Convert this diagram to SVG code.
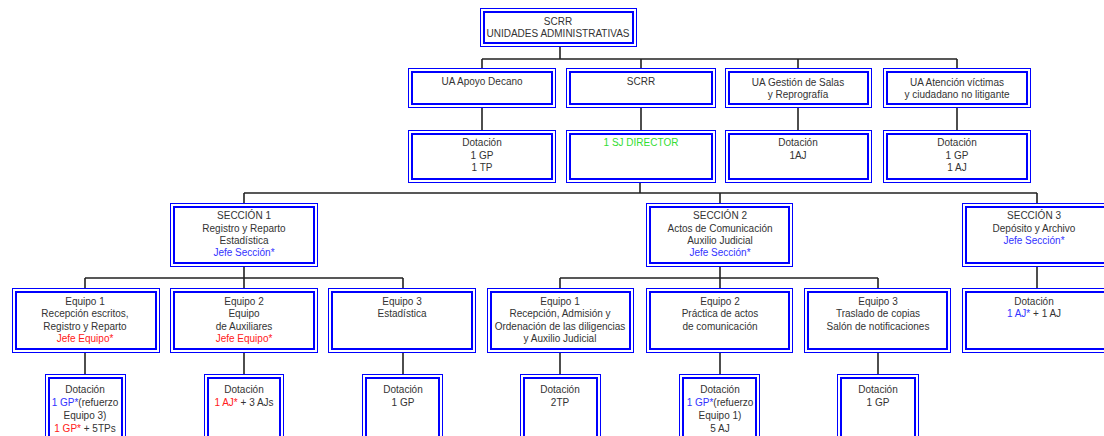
<svg xmlns="http://www.w3.org/2000/svg" width="1104" height="436" viewBox="0 0 1104 436">
  <style>
    .o { fill: #ffffff; stroke: #0000ff; stroke-width: 1; }
    .i { fill: none; stroke: #0000ff; stroke-width: 2; }
    text { font-family: "Liberation Sans", Arial, sans-serif; font-size: 10px; fill: #333333; text-anchor: middle; }
    .blue { fill: #3333ff; }
    .red { fill: #ff2020; }
    .green { fill: #33dd33; }
    .conn { stroke: #222222; stroke-width: 1.6; fill: none; }
  </style>
  <rect width="1104" height="436" fill="#ffffff"/>

  <!-- connectors -->
  <g id="connectors" class="conn">
    <path d="M560 47V59M482 59H957M482 59V68M641 59V68M798 59V68M957 59V68"/>
    <path d="M482 108V130M641 108V130M798 108V130M957 108V130"/>
    <path d="M640 183V193M244 193H1037M244 193V203M720 193V203M1037 193V203"/>
    <path d="M244 267V278M85 278H403M85 278V288M244 278V288M403 278V288"/>
    <path d="M720 267V278M560 278H878M560 278V288M720 278V288M878 278V288"/>
    <path d="M1037 267V288"/>
    <path d="M85 353V374M244 353V374M403 353V374M560 353V374M720 353V374M878 353V374"/>
  </g>

  <!-- root -->
  <g id="root">
    <rect class="o" x="480.5" y="8.5" width="156" height="38"/>
    <rect class="i" x="484" y="12" width="149" height="31"/>
    <text x="558" y="25">SCRR</text>
    <text x="558" y="37">UNIDADES ADMINISTRATIVAS</text>
  </g>

  <!-- administrative units -->
  <g id="ua-apoyo">
    <rect class="o" x="408.5" y="68.5" width="147" height="39"/>
    <rect class="i" x="412" y="72" width="140" height="32"/>
    <text x="482" y="85">UA Apoyo Decano</text>
  </g>
  <g id="ua-scrr">
    <rect class="o" x="566.5" y="68.5" width="149" height="39"/>
    <rect class="i" x="570" y="72" width="142" height="32"/>
    <text x="641" y="85">SCRR</text>
  </g>
  <g id="ua-gestion">
    <rect class="o" x="725.5" y="68.5" width="146" height="39"/>
    <rect class="i" x="729" y="72" width="139" height="32"/>
    <text x="798" y="86">UA Gestión de Salas</text>
    <text x="798" y="98">y Reprografía</text>
  </g>
  <g id="ua-atencion">
    <rect class="o" x="883.5" y="68.5" width="147" height="39"/>
    <rect class="i" x="887" y="72" width="140" height="32"/>
    <text x="957" y="86">UA Atención víctimas</text>
    <text x="957" y="98">y ciudadano no litigante</text>
  </g>

  <!-- staffing of administrative units -->
  <g id="dot-apoyo">
    <rect class="o" x="408.5" y="130.5" width="147" height="52"/>
    <rect class="i" x="412" y="134" width="140" height="45"/>
    <text x="482" y="146">Dotación</text>
    <text x="482" y="159">1 GP</text>
    <text x="482" y="171">1 TP</text>
  </g>
  <g id="dot-scrr">
    <rect class="o" x="566.5" y="130.5" width="149" height="52"/>
    <rect class="i" x="570" y="134" width="142" height="45"/>
    <text x="641" y="146" class="green">1 SJ DIRECTOR</text>
  </g>
  <g id="dot-gestion">
    <rect class="o" x="725.5" y="130.5" width="146" height="52"/>
    <rect class="i" x="729" y="134" width="139" height="45"/>
    <text x="798" y="146">Dotación</text>
    <text x="798" y="159">1AJ</text>
  </g>
  <g id="dot-atencion">
    <rect class="o" x="883.5" y="130.5" width="147" height="52"/>
    <rect class="i" x="887" y="134" width="140" height="45"/>
    <text x="957" y="146">Dotación</text>
    <text x="957" y="159">1 GP</text>
    <text x="957" y="171">1 AJ</text>
  </g>

  <!-- sections -->
  <g id="seccion-1">
    <rect class="o" x="170.5" y="203.5" width="147" height="63"/>
    <rect class="i" x="174" y="207" width="140" height="56"/>
    <text x="244" y="219">SECCIÓN 1</text>
    <text x="244" y="232">Registro y Reparto</text>
    <text x="244" y="244">Estadística</text>
    <text x="244" y="256" class="blue">Jefe Sección*</text>
  </g>
  <g id="seccion-2">
    <rect class="o" x="646.5" y="203.5" width="146" height="63"/>
    <rect class="i" x="650" y="207" width="139" height="56"/>
    <text x="720" y="219">SECCIÓN 2</text>
    <text x="720" y="232">Actos de Comunicación</text>
    <text x="720" y="244">Auxilio Judicial</text>
    <text x="720" y="256" class="blue">Jefe Sección*</text>
  </g>
  <g id="seccion-3">
    <rect class="o" x="962.5" y="203.5" width="148" height="63"/>
    <rect class="i" x="966" y="207" width="141" height="56"/>
    <text x="1034" y="219">SECCIÓN 3</text>
    <text x="1034" y="232">Depósito y Archivo</text>
    <text x="1034" y="244" class="blue">Jefe Sección*</text>
  </g>

  <!-- teams -->
  <g id="s1-equipo-1">
    <rect class="o" x="12.5" y="288.5" width="147" height="64"/>
    <rect class="i" x="16" y="292" width="140" height="57"/>
    <text x="85" y="305">Equipo  1</text>
    <text x="85" y="317">Recepción escritos,</text>
    <text x="85" y="330">Registro y Reparto</text>
    <text x="85" y="342" class="red">Jefe Equipo*</text>
  </g>
  <g id="s1-equipo-2">
    <rect class="o" x="170.5" y="288.5" width="147" height="64"/>
    <rect class="i" x="174" y="292" width="140" height="57"/>
    <text x="244" y="305">Equipo 2</text>
    <text x="244" y="317">Equipo</text>
    <text x="244" y="330">de Auxiliares</text>
    <text x="244" y="342" class="red">Jefe Equipo*</text>
  </g>
  <g id="s1-equipo-3">
    <rect class="o" x="328.5" y="288.5" width="147" height="64"/>
    <rect class="i" x="332" y="292" width="140" height="57"/>
    <text x="402" y="305">Equipo 3</text>
    <text x="402" y="317">Estadística</text>
  </g>
  <g id="s2-equipo-1">
    <rect class="o" x="487.5" y="288.5" width="146" height="64"/>
    <rect class="i" x="491" y="292" width="139" height="57"/>
    <text x="560" y="305">Equipo 1</text>
    <text x="560" y="317">Recepción, Admisión y</text>
    <text x="560" y="330">Ordenación de las diligencias</text>
    <text x="560" y="342">y Auxilio Judicial</text>
  </g>
  <g id="s2-equipo-2">
    <rect class="o" x="646.5" y="288.5" width="146" height="64"/>
    <rect class="i" x="650" y="292" width="139" height="57"/>
    <text x="720" y="305">Equipo 2</text>
    <text x="720" y="317">Práctica de actos</text>
    <text x="720" y="330">de comunicación</text>
  </g>
  <g id="s2-equipo-3">
    <rect class="o" x="804.5" y="288.5" width="146" height="64"/>
    <rect class="i" x="808" y="292" width="139" height="57"/>
    <text x="878" y="305">Equipo 3</text>
    <text x="878" y="317">Traslado de copias</text>
    <text x="878" y="330">Salón de notificaciones</text>
  </g>
  <g id="s3-dotacion">
    <rect class="o" x="962.5" y="288.5" width="148" height="64"/>
    <rect class="i" x="966" y="292" width="141" height="57"/>
    <text x="1034" y="305">Dotación</text>
    <text x="1034" y="317"><tspan class="blue">1 AJ*</tspan> + 1 AJ</text>
  </g>

  <!-- team staffing -->
  <g id="dot-s1-e1">
    <rect class="o" x="45.5" y="374.5" width="80" height="70"/>
    <rect class="i" x="49" y="378" width="73" height="63"/>
    <text x="85" y="393">Dotación</text>
    <text x="85" y="406"><tspan class="blue">1 GP*</tspan>(refuerzo</text>
    <text x="85" y="419">Equipo 3)</text>
    <text x="85" y="432"><tspan class="red">1 GP*</tspan> + 5TPs</text>
  </g>
  <g id="dot-s1-e2">
    <rect class="o" x="204.5" y="374.5" width="79" height="70"/>
    <rect class="i" x="208" y="378" width="72" height="63"/>
    <text x="244" y="393">Dotación</text>
    <text x="244" y="406"><tspan class="red">1 AJ*</tspan> + 3 AJs</text>
  </g>
  <g id="dot-s1-e3">
    <rect class="o" x="362.5" y="374.5" width="80" height="70"/>
    <rect class="i" x="366" y="378" width="73" height="63"/>
    <text x="403" y="393">Dotación</text>
    <text x="403" y="406">1 GP</text>
  </g>
  <g id="dot-s2-e1">
    <rect class="o" x="520.5" y="374.5" width="80" height="70"/>
    <rect class="i" x="524" y="378" width="73" height="63"/>
    <text x="560" y="393">Dotación</text>
    <text x="560" y="406">2TP</text>
  </g>
  <g id="dot-s2-e2">
    <rect class="o" x="679.5" y="374.5" width="80" height="70"/>
    <rect class="i" x="683" y="378" width="73" height="63"/>
    <text x="720" y="393">Dotación</text>
    <text x="720" y="406"><tspan class="blue">1 GP*</tspan>(refuerzo</text>
    <text x="720" y="419">Equipo 1)</text>
    <text x="720" y="432">5 AJ</text>
  </g>
  <g id="dot-s2-e3">
    <rect class="o" x="837.5" y="374.5" width="81" height="70"/>
    <rect class="i" x="841" y="378" width="74" height="63"/>
    <text x="878" y="393">Dotación</text>
    <text x="878" y="406">1 GP</text>
  </g>
</svg>
